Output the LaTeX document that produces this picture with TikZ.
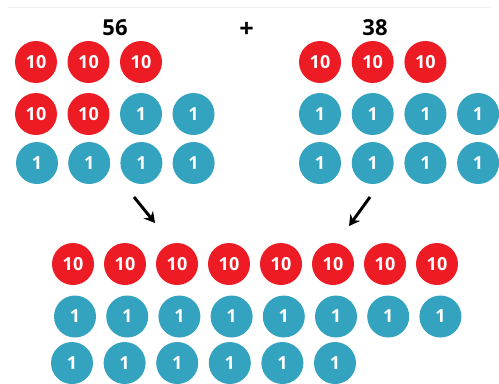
\documentclass[tikz,border=0pt]{standalone}
\usepackage{fontspec}
\setmainfont{Open Sans}
\usetikzlibrary{arrows.meta}
\definecolor{tenred}{RGB}{237,28,36}
\definecolor{oneblue}{RGB}{52,163,191}
\tikzset{every picture/.style={line width=0.75pt}}
\tikzset{
  coin/.style={circle,minimum size=31.5pt,inner sep=0pt,text=white,font=\fontsize{13.5}{15}\selectfont\bfseries},
  ten/.style={coin,fill=tenred},
  one/.style={coin,fill=oneblue},
  total/.style={font=\fontsize{16.5}{18}\selectfont\bfseries},
  joinarrow/.style={line width=2.2pt,-{Stealth[length=8pt,width=9pt]}}
}

\begin{document}
\begin{tikzpicture}[x=0.75pt,y=0.75pt,yscale=-1,xscale=1]
\useasboundingbox (0,0) rectangle (499,383);

%faint top rule
\draw [color={rgb, 255:red, 238; green, 238; blue, 238 }] (8,7) -- (490,7) ;

% Totals
\node [total] (lefttotal) at (115,28) {56};
\node [total,font=\fontsize{19}{20}\selectfont\bfseries] (plus) at (246.5,30) {+};
\node [total] (righttotal) at (375,28) {38};

% Left group: 56
\foreach \i in {1,2,3}
  \node [ten] (la\i) at ({36+52.5*(\i-1)},62) {10};
\foreach \i in {1,2}
  \node [ten] (lb\i) at ({36+52.5*(\i-1)},114) {10};
\foreach \i in {3,4}
  \node [one] (lb\i) at ({36+52.5*(\i-1)},114) {1};
\foreach \i in {1,...,4}
  \node [one] (lc\i) at ({37+52.2*(\i-1)},163) {1};

% Right group: 38
\foreach \i in {1,2,3}
  \node [ten] (ra\i) at ({320+52.7*(\i-1)},62) {10};
\foreach \i in {1,...,4}
  \node [one] (rb\i) at ({320+52.7*(\i-1)},114) {1};
\foreach \i in {1,...,4}
  \node [one] (rc\i) at ({320+52.7*(\i-1)},163) {1};

% Arrows
\coordinate (lstart) at (134,197);
\coordinate (lend) at (155,223);
\coordinate (rstart) at (370,197);
\coordinate (rend) at (349,226);
\draw [joinarrow] (lstart) -- (lend) ;
\draw [joinarrow] (rstart) -- (rend) ;

% Sum: 94
\foreach \i in {1,...,8}
  \node [ten] (sa\i) at ({73+52*(\i-1)},264) {10};
\foreach \i in {1,...,8}
  \node [one] (sb\i) at ({75+52.2*(\i-1)},316.5) {1};
\foreach \i in {1,...,6}
  \node [one] (sc\i) at ({72+52.6*(\i-1)},363) {1};

\end{tikzpicture}
\end{document}
